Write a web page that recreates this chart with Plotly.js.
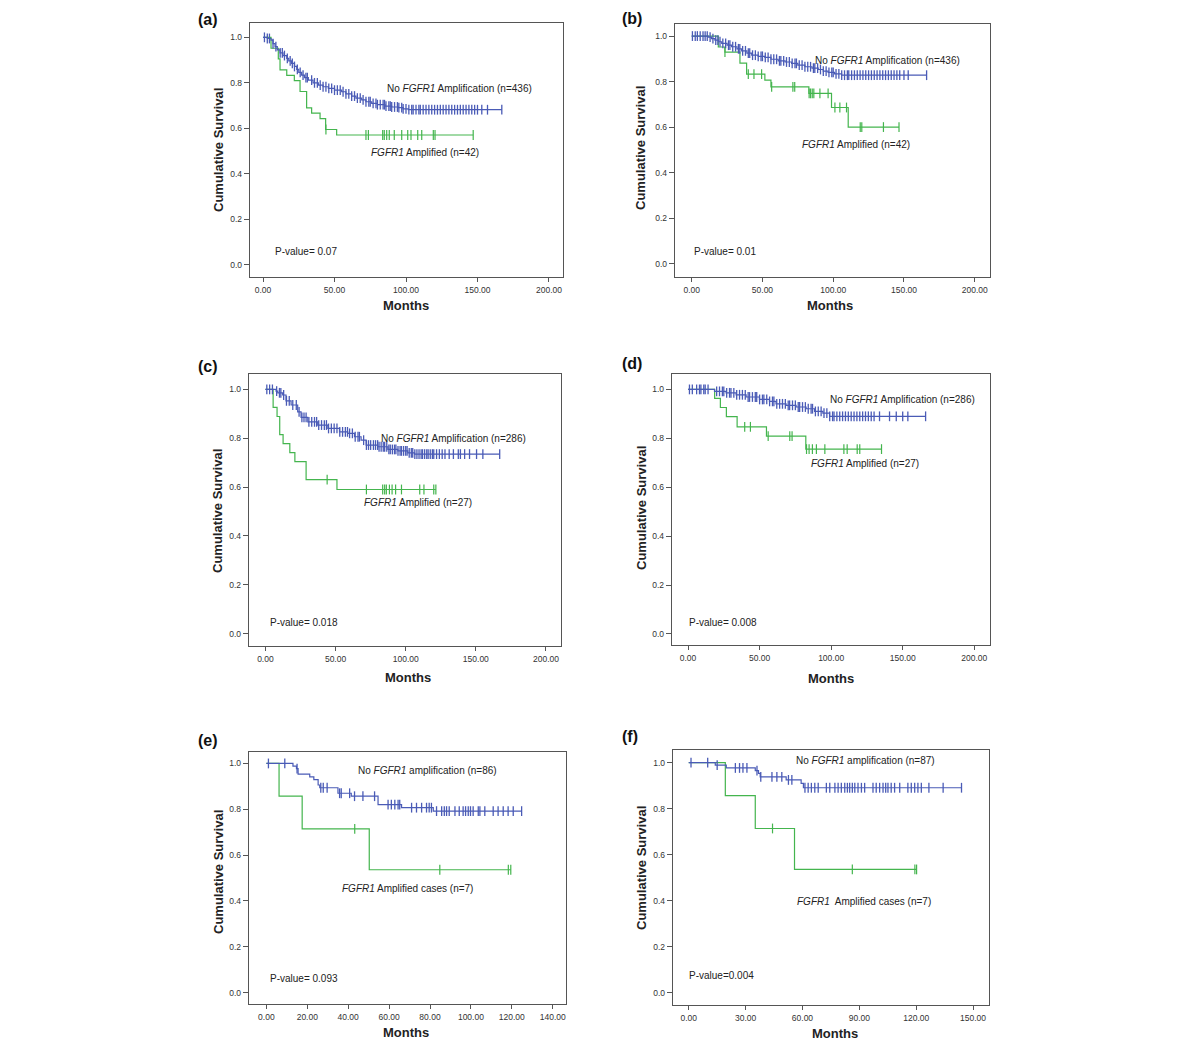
<!DOCTYPE html>
<html>
<head>
<meta charset="utf-8">
<script src="https://cdn.plot.ly/plotly-3.0.1.min.js"></script>
<style>html,body{margin:0;padding:0;background:#fff;}#chart{width:1200px;height:1042px;}</style>
</head>
<body>
<div id="chart"></div>
<script>
// ---------------- DATA ----------------
const panelLetters = ['(a)', '(b)', '(c)', '(d)', '(e)', '(f)'];
const noAmpLabels = [
  'No <i>FGFR1</i> Amplification (n=436)',
  'No <i>FGFR1</i> Amplification (n=436)',
  'No <i>FGFR1</i> Amplification (n=286)',
  'No <i>FGFR1</i> Amplification (n=286)',
  'No <i>FGFR1</i> amplification (n=86)',
  'No <i>FGFR1</i> amplification (n=87)'
];
const ampLabels = [
  '<i>FGFR1</i> Amplified (n=42)',
  '<i>FGFR1</i> Amplified (n=42)',
  '<i>FGFR1</i> Amplified (n=27)',
  '<i>FGFR1</i> Amplified (n=27)',
  '<i>FGFR1</i> Amplified cases (n=7)',
  '<i>FGFR1</i>  Amplified cases (n=7)'
];
const pValues = ['P-value= 0.07', 'P-value= 0.01', 'P-value= 0.018', 'P-value= 0.008', 'P-value= 0.093', 'P-value=0.004'];
const xTitle = 'Months';
const yTitle = 'Cumulative Survival';

// (a)
const aBlueT = [0, 3, 5.6, 7, 8.4, 10, 11.9, 14, 16.6, 18, 20, 22, 23.6, 25, 27, 29, 31.7, 35, 38.7, 42, 45.7, 50, 55, 58, 62, 65, 69, 72, 76, 80, 85.3, 90, 94.6, 98, 101.6, 167];
const aBlueS = [1, 0.995, 0.988, 0.972, 0.959, 0.945, 0.932, 0.92, 0.908, 0.897, 0.886, 0.872, 0.859, 0.846, 0.834, 0.823, 0.812, 0.8, 0.79, 0.783, 0.776, 0.768, 0.761, 0.752, 0.742, 0.733, 0.725, 0.717, 0.71, 0.704, 0.698, 0.694, 0.691, 0.686, 0.682, 0.682];
const aBlueC = [1, 3, 4.5, 7, 9, 12, 13.5, 15, 17, 19, 20.5, 22, 24, 26, 28, 30, 31, 34, 36, 38, 40, 42, 44, 46, 48, 50, 52, 54, 56, 58, 60, 62, 64, 66, 68, 70, 72, 74, 75, 77, 79, 80, 82, 84, 85, 86, 88, 89, 90, 92, 94, 95, 97, 98, 100, 102, 104, 105, 107, 109, 110, 112, 114, 116, 118, 120, 122, 124, 126, 128, 130, 132, 134, 136, 138, 140, 142, 144, 146, 148, 150, 153, 157, 167];
const aGreenT = [0, 5.6, 10.7, 11.9, 16.6, 21.9, 25.9, 30.5, 34, 39.9, 43.8, 51.5, 147];
const aGreenS = [1, 0.952, 0.905, 0.857, 0.833, 0.81, 0.762, 0.69, 0.667, 0.643, 0.595, 0.571, 0.571];
const aGreenC = [44, 72, 73.7, 83.7, 84.8, 86.5, 88.3, 91.8, 97, 101.2, 103.5, 108.2, 111, 119.1, 120.3, 147];

// (b)
const bBlueT = [0, 11.7, 14, 16.4, 19, 21.2, 25, 28.2, 32, 35.3, 39, 42.4, 47, 51.7, 56, 61.1, 66, 70.6, 75, 80, 85, 89.4, 93, 96.4, 101, 105.9, 166];
const bBlueS = [1, 0.995, 0.989, 0.982, 0.975, 0.968, 0.96, 0.953, 0.944, 0.935, 0.925, 0.916, 0.911, 0.906, 0.898, 0.891, 0.886, 0.88, 0.872, 0.865, 0.859, 0.853, 0.846, 0.84, 0.834, 0.828, 0.828];
const bBlueC = [0.5, 2.5, 4, 6, 8, 9.5, 11, 13, 15, 17, 18.5, 20, 22, 24, 26, 27, 29, 31, 33, 34, 36, 38, 40, 41, 43, 45, 47, 49, 50, 52, 54, 56, 58, 60, 62, 63, 65, 67, 69, 71, 73, 74, 76, 78, 80, 82, 84, 86, 87, 89, 91, 93, 95, 97, 99, 100, 102, 104, 106, 108, 110, 111, 113, 115, 117, 119, 121, 123, 125, 127, 129, 131, 133, 135, 137, 139, 141, 143, 145, 147, 150, 153, 166];
const bGreenT = [0, 18.8, 23.5, 34.1, 38.8, 51.7, 56, 82.8, 98.8, 110.6, 146.5];
const bGreenS = [1, 0.952, 0.929, 0.881, 0.833, 0.806, 0.777, 0.748, 0.686, 0.6, 0.6];
const bGreenC = [23.5, 40, 44, 49.4, 56.5, 71.5, 72.8, 83, 84, 85.2, 86.3, 90.6, 96.4, 101.2, 104.7, 109.4, 119.1, 120.2, 135.5, 146.5];

// (c)
const cBlueT = [0, 7.6, 8.8, 12.3, 14.7, 18.3, 23, 25.4, 30.2, 37.3, 44.5, 52.8, 58.7, 63.5, 68.2, 71.8, 80.1, 87.3, 94.4, 101.5, 106.3, 167];
const cBlueS = [1, 0.993, 0.986, 0.977, 0.953, 0.936, 0.908, 0.885, 0.867, 0.854, 0.84, 0.826, 0.82, 0.806, 0.792, 0.772, 0.765, 0.754, 0.748, 0.74, 0.735, 0.735];
const cBlueC = [1, 3, 5, 8, 10, 11, 13, 15, 17, 19.5, 22, 24, 26, 27.5, 29, 31, 33, 35, 36.5, 38, 40, 42, 43.5, 45, 47, 49, 51, 53, 55, 57, 58.5, 60, 62, 64, 66, 67, 70, 72, 73.5, 75, 77, 78.5, 80, 81, 82.5, 84, 85, 86.5, 88, 89, 90.5, 92, 93, 94.5, 96, 97, 98.5, 100, 101, 102.5, 104, 105, 106.5, 108, 109.5, 111, 112, 113.5, 115, 116, 117.5, 119, 120, 122, 124, 126, 128, 131, 134, 137.5, 139, 142, 145.5, 150.5, 155, 167];
const cGreenT = [0, 5.5, 8.3, 10.2, 12.6, 17.4, 21, 29, 51, 121.5];
const cGreenS = [1, 0.926, 0.889, 0.815, 0.778, 0.741, 0.704, 0.63, 0.59, 0.59];
const cGreenC = [44, 72, 83.6, 85, 86.2, 88.4, 90.3, 92.8, 97, 110, 113, 120, 121.5];

// (d)
const dBlueT = [0, 18.5, 26.6, 33.6, 40.6, 49.9, 56.9, 61.5, 68.5, 75.5, 82.5, 88.4, 94.2, 98.9, 166];
const dBlueS = [1, 0.992, 0.986, 0.978, 0.969, 0.959, 0.951, 0.941, 0.935, 0.928, 0.921, 0.91, 0.903, 0.89, 0.89];
const dBlueC = [1, 3, 6, 8, 9, 11, 12, 14, 20, 22, 24, 25, 27, 29, 30, 32, 34, 36, 38, 40, 42, 43, 45, 47, 48, 50, 52, 53, 55, 57, 59, 60, 62, 64, 66, 68, 70, 71, 73, 75, 77, 78, 80, 82, 84, 86, 87, 89, 91, 93, 95, 97, 99, 101, 102, 104, 106, 108, 110, 112, 114, 116, 118, 120, 122, 124, 126, 128, 130, 133.8, 140.8, 145.5, 150, 153.6, 166];
const dGreenT = [0, 18.6, 22.6, 26.8, 34.3, 54.8, 82.3, 135.2];
const dGreenS = [1, 0.963, 0.926, 0.889, 0.847, 0.809, 0.756, 0.756];
const dGreenC = [39.6, 43.6, 56, 71.1, 72.7, 82.8, 84.6, 86.9, 89.7, 95.6, 108.9, 111.2, 118.2, 120, 135.2];

// (e)
const eBlueT = [0, 13, 14.7, 15.5, 21.2, 23.2, 25.3, 26.1, 35, 41.5, 54.6, 66.1, 81.6, 124.8];
const eBlueS = [1, 0.988, 0.977, 0.953, 0.941, 0.929, 0.906, 0.894, 0.87, 0.857, 0.82, 0.807, 0.792, 0.792];
const eBlueC = [1, 9, 15, 26.6, 27.8, 29.7, 35.8, 36.6, 40.7, 43.1, 47.2, 52.9, 59.5, 61.1, 62.8, 64.4, 65.2, 71, 73.4, 75.9, 78.3, 79.6, 80.7, 83.2, 85.7, 87, 88.1, 89.4, 92.2, 94.3, 96.2, 97.4, 98.7, 99.8, 101.1, 103.6, 104.4, 106.8, 110.9, 113.3, 115.8, 118.2, 120.7, 124.8];
const eGreenT = [0, 6.2, 17.5, 50.3, 119.5];
const eGreenS = [1, 0.857, 0.714, 0.536, 0.536];
const eGreenC = [43.2, 84.8, 118.3, 119.5];

// (f)
const fBlueT = [0, 14, 19.8, 35.1, 36.8, 37.7, 51.4, 59.3, 60.5, 143.9];
const fBlueS = [1, 0.989, 0.977, 0.965, 0.953, 0.938, 0.925, 0.91, 0.891, 0.891];
const fBlueC = [1.2, 10, 15, 24.6, 26.8, 28.6, 30.7, 36, 38, 43.9, 46.5, 49.1, 52.6, 54.4, 61.3, 63, 64.7, 66.5, 68.3, 72.6, 74.4, 77.1, 78.8, 80.5, 82.3, 83.7, 84.9, 86.3, 87.6, 89.3, 91.1, 92.8, 97.2, 98.9, 100.7, 102.5, 103.9, 105.1, 106.8, 108.6, 111.3, 115.6, 117.4, 119.2, 120.9, 122.7, 126.7, 134.2, 143.9];
const fGreenT = [0, 19.3, 35.1, 55.8, 120.2];
const fGreenS = [1, 0.857, 0.714, 0.536, 0.536];
const fGreenC = [44.2, 86.3, 119.3, 120.2];

// x tick spacing per panel
const xDticks = [50, 50, 50, 50, 20, 30];

// ---------------- LAYOUT GEOMETRY ----------------
const W = 1200, H = 1042;
const BLUE = '#4a5bb6', GREEN = '#44b54e', FRAME = '#555555', TXT = '#222222';
const FONT = 'Liberation Sans, Arial, sans-serif';
const geom = [
  {px:[250,563], py:[23,277],  xr:[-9.1,209.8],  yr:[-0.053,1.063], no:[459,88],  amp:[425,153], p:[273,251], lab:[196,20],  yt:[218,150], xt:[406,306]},
  {px:[675,990], py:[24,277],  xr:[-11.8,210.8], yr:[-0.059,1.053], no:[887,61],  amp:[856,144], p:[692,251], lab:[620,18],  yt:[641,148], xt:[830,305]},
  {px:[249,561], py:[374,646], xr:[-11.7,210.7], yr:[-0.051,1.063], no:[453,438], amp:[418,502], p:[268,622], lab:[196,366], yt:[218,511], xt:[408,677]},
  {px:[672,990], py:[374,645], xr:[-11.2,211],   yr:[-0.045,1.063], no:[903,399], amp:[865,463], p:[687,622], lab:[620,364], yt:[641,508], xt:[831,678]},
  {px:[249,566], py:[752,1004],xr:[-8.5,146.5],  yr:[-0.05,1.05],   no:[427,770], amp:[407,888], p:[268,978], lab:[196,740], yt:[218,872], xt:[406,1032]},
  {px:[673,989], py:[750,1005],xr:[-8.3,158.4],  yr:[-0.053,1.055], no:[865,760], amp:[864,901], p:[687,975], lab:[620,736], yt:[641,868], xt:[835,1033]}
];
const series = [
  [aBlueT, aBlueS, aBlueC, aGreenT, aGreenS, aGreenC],
  [bBlueT, bBlueS, bBlueC, bGreenT, bGreenS, bGreenC],
  [cBlueT, cBlueS, cBlueC, cGreenT, cGreenS, cGreenC],
  [dBlueT, dBlueS, dBlueC, dGreenT, dGreenS, dGreenC],
  [eBlueT, eBlueS, eBlueC, eGreenT, eGreenS, eGreenC],
  [fBlueT, fBlueS, fBlueC, fGreenT, fGreenS, fGreenC]
];

function survAt(T, S, t) {
  let v = S[0];
  for (let i = 0; i < T.length; i++) { if (T[i] <= t + 1e-9) v = S[i]; }
  return v;
}
const px2x = p => p / W;
const px2y = p => 1 - p / H;

const traces = [];
const layout = {
  width: W, height: H,
  margin: {l:0, r:0, t:0, b:0},
  paper_bgcolor: '#ffffff', plot_bgcolor: '#ffffff',
  showlegend: false, hovermode: false,
  font: {family: FONT, color: TXT},
  annotations: []
};

geom.forEach((g, i) => {
  const k = i === 0 ? '' : String(i + 1);
  const xa = 'x' + k, ya = 'y' + k;
  const [bT, bS, bC, gT, gS, gC] = series[i];
  traces.push({type:'scatter', mode:'lines', x:gT, y:gS, xaxis:xa, yaxis:ya,
    line:{color:GREEN, width:1.2, shape:'hv'}});
  traces.push({type:'scatter', mode:'markers', x:gC, y:gC.map(t => survAt(gT, gS, t)), xaxis:xa, yaxis:ya,
    marker:{symbol:'line-ns-open', size:7, color:GREEN, line:{color:GREEN, width:1.2}}});
  traces.push({type:'scatter', mode:'lines', x:bT, y:bS, xaxis:xa, yaxis:ya,
    line:{color:BLUE, width:1.2, shape:'hv'}});
  traces.push({type:'scatter', mode:'markers', x:bC, y:bC.map(t => survAt(bT, bS, t)), xaxis:xa, yaxis:ya,
    marker:{symbol:'line-ns-open', size:7, color:BLUE, line:{color:BLUE, width:1.3}}});

  layout['xaxis' + k] = {
    domain:[px2x(g.px[0]), px2x(g.px[1])], range:g.xr, anchor:ya,
    showgrid:false, zeroline:false, showline:true, mirror:true, linecolor:FRAME, linewidth:1.3,
    ticks:'outside', ticklen:4, tickcolor:FRAME, tick0:0, dtick:xDticks[i], tickformat:'.2f',
    tickfont:{family:FONT, size:8.5, color:'#333'}, fixedrange:true
  };
  layout['yaxis' + k] = {
    domain:[px2y(g.py[1]), px2y(g.py[0])], range:g.yr, anchor:xa,
    showgrid:false, zeroline:false, showline:true, mirror:true, linecolor:FRAME, linewidth:1.3,
    ticks:'outside', ticklen:5, tickcolor:FRAME, tick0:0, dtick:0.2, tickformat:'.1f',
    tickfont:{family:FONT, size:8.5, color:'#333'}, fixedrange:true
  };

  const ann = layout.annotations;
  ann.push({xref:'paper', yref:'paper', x:px2x(g.no[0]), y:px2y(g.no[1]), text:noAmpLabels[i],
    showarrow:false, xanchor:'center', yanchor:'middle', font:{size:10, color:TXT}});
  ann.push({xref:'paper', yref:'paper', x:px2x(g.amp[0]), y:px2y(g.amp[1]), text:ampLabels[i],
    showarrow:false, xanchor:'center', yanchor:'middle', font:{size:10, color:TXT}});
  ann.push({xref:'paper', yref:'paper', x:px2x(g.p[0]), y:px2y(g.p[1]), text:pValues[i],
    showarrow:false, xanchor:'left', yanchor:'middle', font:{size:10, color:TXT}});
  ann.push({xref:'paper', yref:'paper', x:px2x(g.lab[0]), y:px2y(g.lab[1]), text:'<b>' + panelLetters[i] + '</b>',
    showarrow:false, xanchor:'left', yanchor:'middle', font:{size:16, color:'#111'}});
  ann.push({xref:'paper', yref:'paper', x:px2x(g.yt[0]), y:px2y(g.yt[1]), text:'<b>' + yTitle + '</b>',
    showarrow:false, xanchor:'center', yanchor:'middle', textangle:-90, font:{size:13, color:'#222'}});
  ann.push({xref:'paper', yref:'paper', x:px2x(g.xt[0]), y:px2y(g.xt[1]), text:'<b>' + xTitle + '</b>',
    showarrow:false, xanchor:'center', yanchor:'middle', font:{size:13, color:'#222'}});
});

Plotly.newPlot('chart', traces, layout, {displayModeBar:false, staticPlot:true});
</script>
</body>
</html>
